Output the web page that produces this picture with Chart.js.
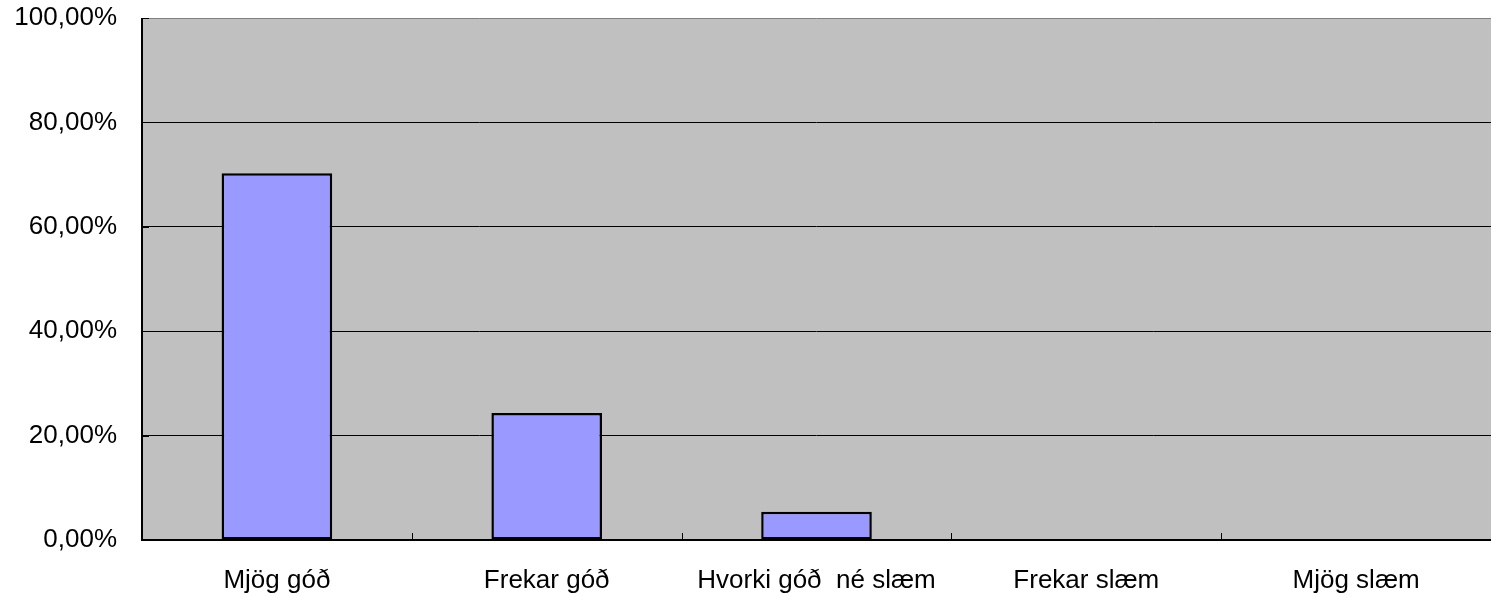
<!DOCTYPE html>
<html>
<head>
<meta charset="utf-8">
<script src="https://cdn.jsdelivr.net/npm/chart.js@4"></script>
<style>
  html, body { margin: 0; padding: 0; background: #fff; }
  #wrap { width: 1491px; height: 597px; }
</style>
</head>
<body>
<div id="wrap"><canvas id="myChart" width="1491" height="597"></canvas></div>
<script>
// categories and values (percent)
var labels = ['Mjög góð', 'Frekar góð', 'Hvorki góð  né slæm', 'Frekar slæm', 'Mjög slæm'];
var values = [70.27, 24.32, 5.41, 0, 0];
var yTicks = [0, 20, 40, 60, 80, 100];

// grey plot area, frame and the small inner tick marks
var plotArea = {
  id: 'plotArea',
  beforeDraw: function(chart) {
    var a = chart.chartArea, c = chart.ctx;
    c.save();
    c.fillStyle = '#c0c0c0';
    c.fillRect(a.left, a.top, a.right - a.left, a.bottom - a.top);
    c.restore();
  },
  afterDatasetsDraw: function(chart) {
    var a = chart.chartArea, c = chart.ctx;
    var x = chart.scales.x, y = chart.scales.y;
    c.save();
    c.lineWidth = 1;
    c.strokeStyle = '#808080';
    c.beginPath();
    c.moveTo(a.left, a.top + 0.5);
    c.lineTo(a.right, a.top + 0.5);
    c.stroke();
    c.strokeStyle = '#000';
    // x ticks between categories, pointing up
    for (let i = 1; i < labels.length; i++) {
      let px = Math.round((x.getPixelForValue(i - 1) + x.getPixelForValue(i)) / 2) + 0.5;
      c.beginPath();
      c.moveTo(px, a.bottom);
      c.lineTo(px, a.bottom - 7);
      c.stroke();
    }
    // y ticks, pointing right
    for (let i = 0; i < yTicks.length; i++) {
      let py = Math.round(y.getPixelForValue(yTicks[i])) + 0.5;
      c.beginPath();
      c.moveTo(a.left, py);
      c.lineTo(a.left + 7, py);
      c.stroke();
    }
    // axis lines
    c.lineWidth = 2;
    c.beginPath();
    c.moveTo(a.left, a.top);
    c.lineTo(a.left, a.bottom);
    c.lineTo(a.right, a.bottom);
    c.stroke();
    c.restore();
  }
};

var ctx = document.getElementById('myChart').getContext('2d');
var chart = new Chart(ctx, {
  type: 'bar',
  data: {
    labels: labels,
    datasets: [{
      data: values,
      backgroundColor: '#9999ff',
      borderColor: '#000000',
      borderWidth: 2.5,
      borderSkipped: false,
      categoryPercentage: 0.41,
      barPercentage: 1.0
    }]
  },
  options: {
    responsive: false,
    animation: false,
    layout: { padding: { top: 18, left: 0, right: 0, bottom: 0 } },
    plugins: { legend: { display: false }, tooltip: { enabled: false } },
    scales: {
      x: {
        grid: { display: false, drawTicks: false },
        border: { display: false },
        ticks: {
          color: '#000',
          font: { family: 'Liberation Sans, Arial', size: 26 },
          padding: 25,
          maxRotation: 0,
          autoSkip: false
        },
        afterFit: function(s) { s.height = 57; s.paddingLeft = 0; s.paddingRight = 0; }
      },
      y: {
        min: 0,
        max: 100,
        afterBuildTicks: function(s) { s.ticks = yTicks.map(function(v) { return { value: v }; }); },
        grid: {
          drawTicks: false,
          color: function(c) { return (c.tick && (c.tick.value === 0 || c.tick.value === 100)) ? 'rgba(0,0,0,0)' : '#000'; },
          lineWidth: 1
        },
        border: { display: false },
        ticks: {
          color: '#000',
          font: { family: 'Liberation Sans, Arial', size: 26 },
          padding: 25,
          callback: function(v) { return v.toFixed(2).replace('.', ',') + '%'; }
        },
        afterFit: function(s) { s.width = 142; s.paddingTop = 0; s.paddingBottom = 0; }
      }
    }
  },
  plugins: [plotArea]
});
</script>
</body>
</html>
